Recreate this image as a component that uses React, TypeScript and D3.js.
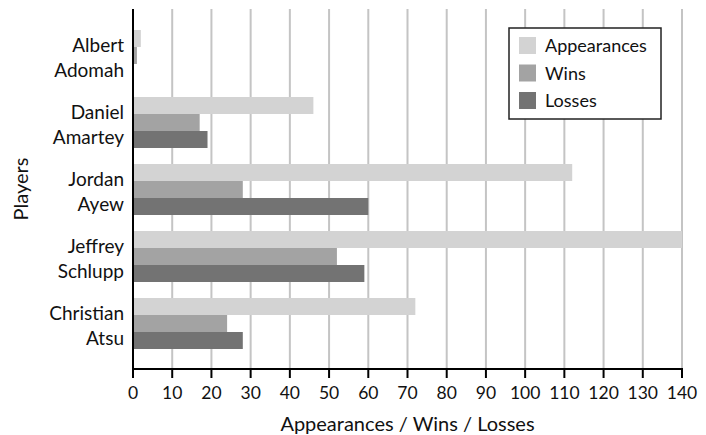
import React from "react";
import * as d3 from "d3";

const players = ["Albert Adomah", "Daniel Amartey", "Jordan Ayew", "Jeffrey Schlupp", "Christian Atsu"];
const seriesNames = ["Appearances", "Wins", "Losses"];
const appearances = [2, 46, 112, 140, 72];
const wins = [1, 17, 28, 52, 24];
const losses = [0, 19, 60, 59, 28];
const xTicks = [0, 10, 20, 30, 40, 50, 60, 70, 80, 90, 100, 110, 120, 130, 140];
const colors = ["#d3d3d3", "#a3a3a3", "#737373"];

const W = 706, H = 435;
const left = 133, right = 682, top = 9, bottom = 369;
const font = "Lato, 'Open Sans', sans-serif";

export default function App() {
  const x = d3.scaleLinear().domain([0, 140]).range([left, right]);
  const y = d3.scaleBand<string>().domain(players).range([22, 357]).paddingInner(16 / 67).paddingOuter(8 / 67);
  const inner = d3.scaleBand<string>().domain(seriesNames).range([0, y.bandwidth()]);
  const values = [appearances, wins, losses];

  return (
    <svg width={W} height={H} style={{ position: "absolute", left: 0, top: 0 }} fontFamily={font}>
      <rect width={W} height={H} fill="#fff" />
      {xTicks.slice(1).map((t) => (
        <line key={t} x1={x(t)} x2={x(t)} y1={top} y2={bottom} stroke="#c4c4c4" strokeWidth={2} />
      ))}
      <defs>
        <clipPath id="plot"><rect x={left} y={top} width={right - left} height={bottom - top} /></clipPath>
      </defs>
      <g clipPath="url(#plot)">
        {players.map((p, i) =>
          seriesNames.map((s, j) => (
            <rect key={p + s} x={x(0)} y={(y(p) ?? 0) + (inner(s) ?? 0)} width={x(values[j][i]) - x(0)} height={inner.bandwidth()} fill={colors[j]} />
          ))
        )}
      </g>
      <line x1={left} x2={left} y1={top} y2={bottom} stroke="#000" strokeWidth={2} />
      <line x1={left - 1} x2={right + 1} y1={bottom} y2={bottom} stroke="#000" strokeWidth={2} />
      {xTicks.map((t) => (
        <g key={t}>
          <line x1={x(t)} x2={x(t)} y1={bottom} y2={bottom + 9} stroke="#000" strokeWidth={2} />
          <text x={x(t)} y={399} textAnchor="middle" fontSize={17.5} fill="#111">{t}</text>
        </g>
      ))}
      {players.map((p) => {
        const parts = p.split(" ");
        const c = (y(p) ?? 0) + y.bandwidth() / 2;
        return (
          <text key={p} x={124} textAnchor="end" fontSize={19} fill="#111">
            <tspan x={124} y={c - 3.5}>{parts[0]}</tspan>
            <tspan x={124} y={c + 21.5}>{parts[1]}</tspan>
          </text>
        );
      })}
      <text x={(left + right) / 2} y={431} textAnchor="middle" fontSize={20} fill="#111">Appearances / Wins / Losses</text>
      <text transform={`translate(28, ${(top + bottom) / 2}) rotate(-90)`} textAnchor="middle" fontSize={20} fill="#111">Players</text>
      <g>
        <rect x={509} y={28} width={152} height={91} fill="#fff" stroke="#222" strokeWidth={1.5} />
        {seriesNames.map((s, j) => (
          <g key={s}>
            <rect x={519} y={37 + j * 27.5} width={17} height={17} fill={colors[j]} />
            <text x={545} y={52 + j * 27.5} fontSize={18} fill="#111">{s}</text>
          </g>
        ))}
      </g>
    </svg>
  );
}
